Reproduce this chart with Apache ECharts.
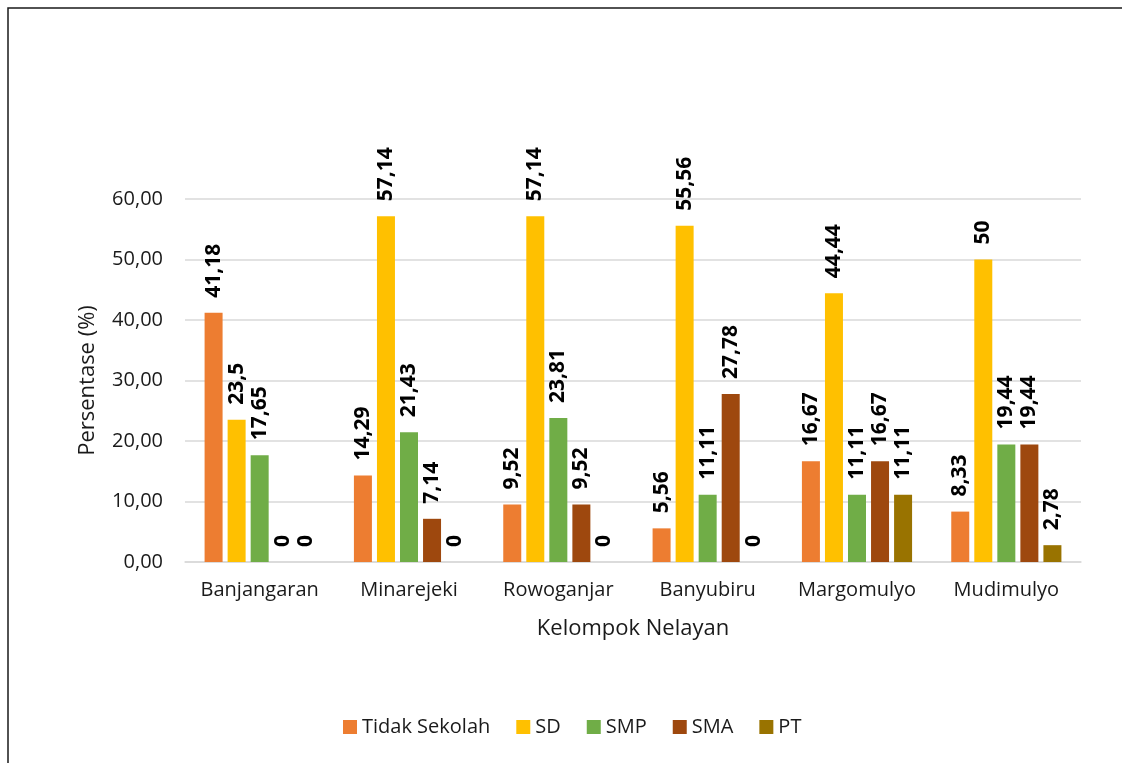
<!DOCTYPE html>
<html>
<head>
<meta charset="utf-8">
<script src="https://cdn.jsdelivr.net/npm/echarts@6/dist/echarts.min.js"></script>
<style>
  html, body { margin: 0; padding: 0; background: #fff; }
  #chart { width: 1122px; height: 763px; }
</style>
</head>
<body>
<div id="chart"></div>
<script>
const categories = ["Banjangaran", "Minarejeki", "Rowoganjar", "Banyubiru", "Margomulyo", "Mudimulyo"];
const tidakSekolah = [41.18, 14.29, 9.52, 5.56, 16.67, 8.33];
const sd = [23.5, 57.14, 57.14, 55.56, 44.44, 50];
const smp = [17.65, 21.43, 23.81, 11.11, 11.11, 19.44];
const sma = [0, 7.14, 9.52, 27.78, 16.67, 19.44];
const pt = [0, 0, 0, 0, 11.11, 2.78];

const seriesNames = ["Tidak Sekolah", "SD", "SMP", "SMA", "PT"];
const seriesData = [tidakSekolah, sd, smp, sma, pt];
const colors = ["#ED7D31", "#FFC000", "#70AD47", "#9E480E", "#997300"];

const font = "'Open Sans', 'Liberation Sans', sans-serif";
const textColor = "#1a1a1a";
const comma = (v) => String(v).replace(".", ",");

const chart = echarts.init(document.getElementById("chart"));

chart.setOption({
  animation: false,
  color: colors,
  textStyle: { fontFamily: font },
  graphic: [{
    type: "rect",
    shape: { x: 8, y: 8, width: 1300, height: 900 },
    style: { fill: "none", stroke: "#1a1a1a", lineWidth: 1.5 },
    silent: true
  }],
  grid: { left: 185, right: 41, top: 199, bottom: 201 },
  legend: {
    left: 338,
    top: 712,
    itemWidth: 14,
    itemHeight: 14,
    itemGap: 26,
    icon: "rect",
    textStyle: { fontFamily: font, fontSize: 20, color: textColor },
    data: seriesNames
  },
  xAxis: {
    type: "category",
    data: categories,
    name: "Kelompok Nelayan",
    nameLocation: "middle",
    nameGap: 56,
    nameTextStyle: { fontFamily: font, fontSize: 22, color: textColor },
    axisLine: { lineStyle: { color: "#d9d9d9", width: 1.5 } },
    axisTick: { show: false },
    axisLabel: { interval: 0, fontFamily: font, fontSize: 20, color: textColor, margin: 18 }
  },
  yAxis: {
    type: "value",
    min: 0,
    max: 60,
    interval: 10,
    name: "Persentase (%)",
    nameLocation: "middle",
    nameGap: 86,
    nameTextStyle: { fontFamily: font, fontSize: 22, color: textColor },
    axisLine: { show: false },
    axisTick: { show: false },
    axisLabel: {
      fontFamily: font, fontSize: 20, color: textColor, margin: 22,
      formatter: (v) => v.toFixed(2).replace(".", ",")
    },
    splitLine: { lineStyle: { color: "#d9d9d9", width: 1.5 } }
  },
  series: seriesNames.map((name, i) => ({
    name: name,
    type: "bar",
    data: seriesData[i],
    barWidth: 18,
    barGap: "28%",
    itemStyle: { color: colors[i] },
    label: {
      show: true,
      position: "top",
      rotate: 90,
      align: "left",
      verticalAlign: "middle",
      distance: 15,
      fontFamily: font,
      fontSize: 21,
      fontWeight: "bold",
      color: "#000",
      formatter: (p) => comma(p.value)
    }
  }))
});
</script>
</body>
</html>
